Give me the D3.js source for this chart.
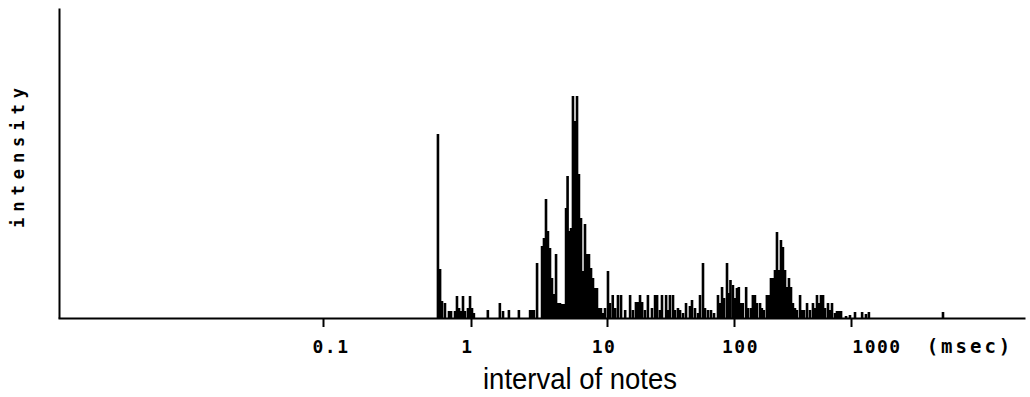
<!DOCTYPE html>
<html>
<head>
<meta charset="utf-8">
<script src="https://cdn.jsdelivr.net/npm/d3@7"></script>
<style>
  html, body { margin: 0; padding: 0; background: #fff; }
  svg { display: block; }
</style>
</head>
<body>
<script>
const width = 1030;
const height = 397;

// interval of notes (msec) for each histogram bin
const intervals = [
  0.598, 0.618, 0.628, 0.637, 0.667, 0.710, 0.733, 0.780, 0.804, 0.830, 0.855, 0.883, 0.910,
  0.954, 0.985, 1.017, 1.05,
  1.33, 1.63, 1.72, 1.90, 2.25, 2.72, 2.81, 2.90, 3.06,
  3.33, 3.44, 3.56, 3.68, 3.81, 3.94, 4.08, 4.22, 4.36, 4.51, 4.67, 4.83,
  5.00, 5.13, 5.26, 5.44, 5.62, 5.82, 6.02, 6.22, 6.44, 6.66, 6.89, 7.13, 7.37,
  7.63, 7.89, 8.16, 8.44, 8.73, 9.03, 9.34, 9.67,
  10.18, 10.56, 11.1, 11.6, 12.2, 12.9, 13.9, 15.2, 16.0, 16.9, 17.5, 18.2, 18.9,
  19.9, 21.0, 22.6, 23.9, 24.8, 26.1, 27.1, 29.2, 30.2, 31.3, 33.1, 34.3, 36.2,
  37.6, 39.7, 41.9, 45.0, 46.7, 49.3, 52.1, 54.0, 57.0, 59.1, 62.4, 65.9, 69.6,
  74.8, 77.6, 80.5, 83.5, 88.1, 91.4, 93.8, 98.1,
  102, 106, 110, 115, 119, 127, 132, 140, 145, 151, 157, 167, 173, 180, 191, 199,
  207, 216, 224, 233, 243, 252, 262, 273, 284, 295, 307, 319, 332, 345, 367, 381,
  397, 421, 446, 473, 492, 512, 533, 554, 577, 600, 636, 662, 688, 730, 759, 789,
  822, 907, 980,
  1090, 1270, 1380, 1470, 7240
];

// intensity of each bin (arbitrary units)
const intensity = [
  184, 49, 17, 17, 15, 7, 7, 7, 22, 10, 7, 22, 7,
  10, 22, 10, 5,
  8, 15, 7, 8, 8, 8, 8, 8, 55,
  72, 80, 119, 87, 70, 40, 24, 64, 15, 15, 14, 14,
  110, 142, 87, 90, 222, 197, 222, 144, 100, 47, 94, 64, 64,
  50, 40, 30, 30, 10, 10, 5, 10,
  47, 15, 23, 10, 23, 23, 8, 23, 8, 16, 16, 23, 16,
  8, 23, 10, 23, 23, 8, 23, 23, 8, 23, 23, 8, 10,
  8, 5, 15, 12, 18, 10, 5, 23, 55, 10, 8, 8, 5,
  23, 15, 31, 20, 55, 25, 38, 33,
  20, 30, 31, 15, 15, 31, 10, 10, 23, 23, 15, 15, 10, 8, 23, 23,
  40, 40, 48, 86, 48, 78, 71, 48, 31, 40, 31, 15, 10, 8, 23, 8,
  8, 15, 8, 15, 10, 23, 15, 23, 23, 10, 15, 8, 15, 5, 7, 7,
  7, 2, 3,
  6, 6, 4, 6, 6
];

const tickValues = [0.1, 1, 10, 100, 1000];
const tickLabels = ["0.1", "1", "10", "100", "1000"];

const bins = intervals.map((v, i) => ({ v: v, h: intensity[i] }));

const svg = d3.select("body")
  .append("svg")
  .attr("width", width)
  .attr("height", height);

// log axis of the scan is not quite even, so the decades are pinned piecewise
const x = d3.scaleLog()
  .domain([0.0025, 0.1, 1, 10, 100, 1000, 10000, 45000])
  .range([58, 323, 471, 607, 734, 851, 958, 1025]);

const y = d3.scaleLinear()
  .domain([0, 310])
  .range([318, 8]);

// labels sit a little off their ticks in the original
const labelX = d3.scaleLog().domain([0.1, 1000]).range([331, 877]);

// bars
svg.append("g")
  .selectAll("rect")
  .data(bins)
  .join("rect")
  .attr("x", d => x(d.v) - 1.3)
  .attr("width", 2.6)
  .attr("y", d => y(d.h))
  .attr("height", d => y(0) - y(d.h))
  .attr("fill", "#000");

// x axis
const xAxis = svg.append("g")
  .attr("transform", `translate(0,${y(0)})`)
  .call(d3.axisBottom(x).tickValues(tickValues).tickSize(9).tickSizeOuter(0).tickFormat(""));
xAxis.select(".domain").attr("stroke", "#000").attr("stroke-width", 2);
xAxis.selectAll(".tick line").attr("stroke", "#000").attr("stroke-width", 2);

// y axis (no ticks)
const yAxis = svg.append("g")
  .attr("transform", `translate(${x.range()[0] + 1},0)`)
  .call(d3.axisLeft(y).tickValues([]).tickSizeOuter(0));
yAxis.select(".domain").attr("stroke", "#000").attr("stroke-width", 2);

// tick labels
svg.append("g")
  .selectAll("text")
  .data(tickValues)
  .join("text")
  .attr("x", d => labelX(d))
  .attr("y", 353)
  .attr("text-anchor", "middle")
  .attr("font-family", "DejaVu Sans Mono, monospace")
  .attr("font-weight", "bold")
  .attr("font-size", 18)
  .attr("letter-spacing", 1.5)
  .text((d, i) => tickLabels[i]);

svg.append("text")
  .attr("x", 970)
  .attr("y", 353)
  .attr("text-anchor", "middle")
  .attr("font-family", "DejaVu Sans Mono, monospace")
  .attr("font-weight", "bold")
  .attr("font-size", 19)
  .attr("letter-spacing", 3)
  .text("(msec)");

// axis titles
svg.append("text")
  .attr("x", 580)
  .attr("y", 389)
  .attr("text-anchor", "middle")
  .attr("font-family", "Liberation Sans, Arial, sans-serif")
  .attr("font-size", 30)
  .attr("textLength", 194)
  .attr("lengthAdjust", "spacingAndGlyphs")
  .text("interval of notes");

svg.append("text")
  .attr("transform", "translate(24,155) rotate(-90)")
  .attr("text-anchor", "middle")
  .attr("font-family", "DejaVu Sans Mono, monospace")
  .attr("font-weight", "bold")
  .attr("font-size", 17)
  .attr("letter-spacing", 6)
  .text("intensity");
</script>
</body>
</html>
